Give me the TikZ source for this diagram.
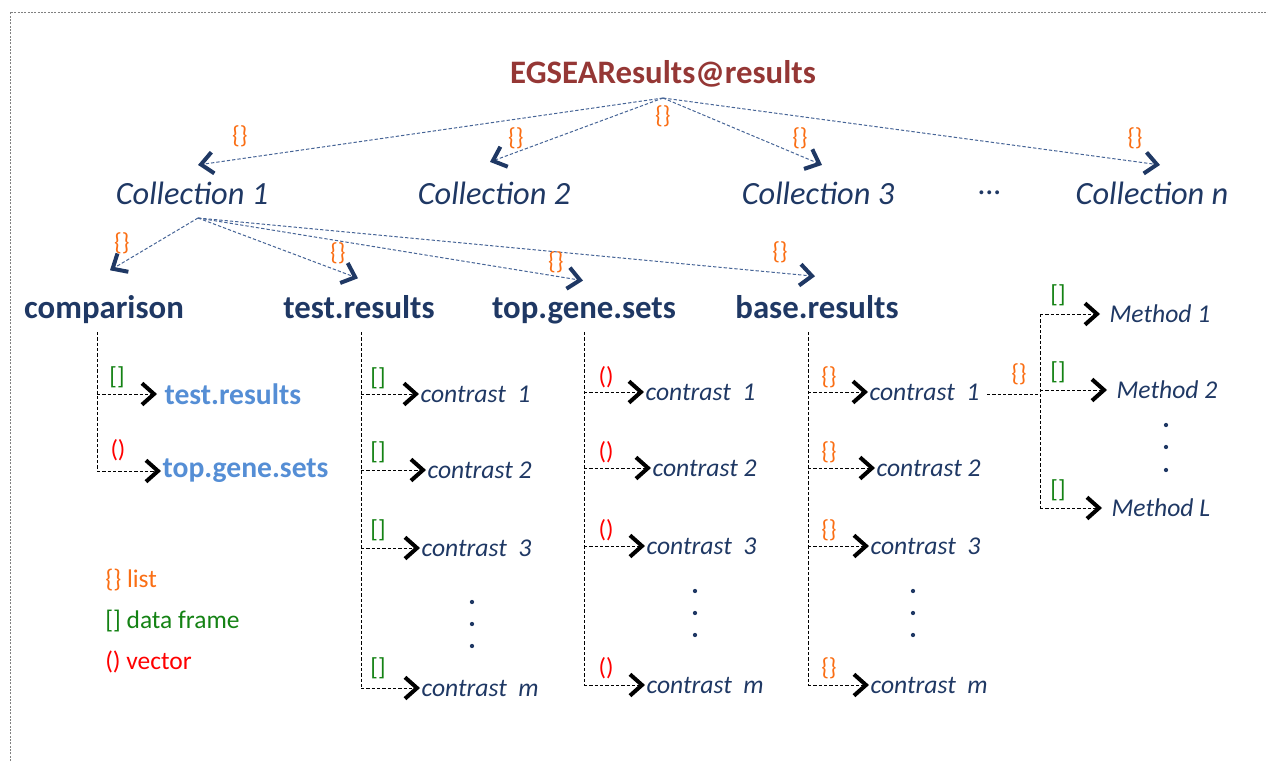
\documentclass[tikz,border=0pt]{standalone}
\usepackage{fontspec}
\setmainfont{Carlito}
\usetikzlibrary{arrows.meta,calc}
\definecolor{navy}{RGB}{31,56,100}
\definecolor{darkred}{RGB}{149,55,53}
\definecolor{lightblue}{RGB}{85,142,213}
\definecolor{lorange}{RGB}{250,110,20}
\definecolor{dfgreen}{RGB}{20,130,20}
\definecolor{vecred}{RGB}{255,0,0}
\definecolor{lineblue}{RGB}{70,100,150}
\begin{document}
\begin{tikzpicture}[x=0.75pt,y=-0.75pt,
  title/.style={font=\bfseries\fontsize{24.6}{29}\selectfont,text=darkred},
  coll/.style={font=\itshape\fontsize{24.3}{29}\selectfont,text=navy},
  head/.style={font=\bfseries\fontsize{24.6}{29}\selectfont,text=navy,anchor=base},
  sub/.style={font=\bfseries\fontsize{22.2}{26}\selectfont,text=lightblue,anchor=west,inner sep=1pt},
  ctr/.style={font=\itshape\fontsize{19.2}{23}\selectfont,text=navy,anchor=west,inner sep=1pt},
  tag/.style={font=\fontsize{18.5}{22}\selectfont,inner sep=0pt},
  lst/.style={tag,text=lorange},
  dfr/.style={tag,text=dfgreen},
  vec/.style={tag,text=vecred},
  legend/.style={font=\fontsize{19.1}{23}\selectfont,anchor=west,inner sep=0pt},
  fan/.style={draw=lineblue,dash pattern=on 2.5pt off 1.5pt,line width=0.75pt,
    -{Straight Barb[length=9pt,width=16pt,line width=3pt,color=navy]}},
  tree/.style={draw=black,dash pattern=on 2.5pt off 1.5pt,line width=0.6pt},
  branch/.style={tree,-{Straight Barb[length=9pt,width=16pt,line width=3pt]}},
  dotmark/.style={circle,fill=navy,inner sep=0pt,minimum size=3.2pt}
]
\useasboundingbox (0,0) rectangle (1268,761);
\draw[gray,dash pattern=on 1.5pt off 1pt,line width=0.7pt] (10,761) -- (10,12) -- (1268,12);

% title and collections
\node[title] (root) at (663,74) {EGSEAResults@results};
\coordinate (apex) at (663,98);
\node[coll] (c1) at (192,193) {Collection 1};
\node[coll] (c2) at (494,193) {Collection 2};
\node[coll] (c3) at (818,193) {Collection 3};
\node[coll] (cdots) at (990,193) {…};
\node[coll] (cn) at (1152,193) {Collection n};

\draw[fan] (apex) -- ($(c1.north)+(6,-12)$);
\draw[fan] (apex) -- ($(c2.north)+(-4,-15)$);
\draw[fan] (apex) -- ($(c3.north)+(4,-12)$);
\draw[fan] (apex) -- ($(cn.north)+(8,-12)$);
\node[lst] (l1) at (240,136) {\{\}};
\node[lst] (l2) at (516,138) {\{\}};
\node[lst] (l3) at (663,116) {\{\}};
\node[lst] (l4) at (800,138) {\{\}};
\node[lst] (l5) at (1135,138) {\{\}};

% headers
\coordinate (apex2) at (198,218);
\node[head] (h1) at (104,318) {comparison};
\node[head] (h2) at (359,318) {test.results};
\node[head] (h3) at (584,318) {top.gene.sets};
\node[head] (h4) at (817,318) {base.results};
\draw[fan] (apex2) -- ($(h1.north)+(6,-20)$);
\draw[fan] (apex2) -- ($(h2.north)+(-1,-12)$);
\draw[fan] (apex2) -- ($(h3.north)+(-1,-12)$);
\draw[fan] (apex2) -- ($(h4.north)+(-2,-14)$);
\node[lst] (m1) at (122,243) {\{\}};
\node[lst] (m2) at (338,253) {\{\}};
\node[lst] (m3) at (556,262) {\{\}};
\node[lst] (m4) at (780,252) {\{\}};

% comparison tree
\coordinate (t1top) at (97,332);
\node[sub] (s1) at (163,394) {test.results};
\node[sub] (s2) at (161,471) {top.gene.sets};
\draw[tree] (t1top) -- (t1top |- s2.west);
\draw[branch] (t1top |- s1.west) -- ($(s1.west)+(-6,0)$);
\draw[branch] (t1top |- s2.west) -- (s2.west);
\node[dfr] at (117,377) {[]};
\node[vec] at (118,450) {()};

% test.results tree
\coordinate (t2top) at (361,332);
\node[ctr] (a1) at (419,394) {contrast~~1};
\node[ctr] (a2) at (426,470) {contrast 2};
\node[ctr] (a3) at (420,548) {contrast~~3};
\node[ctr] (am) at (420,688) {contrast~~m};
\draw[tree] (t2top) -- (t2top |- am.west);
\foreach \n in {a1,a2,a3,am} \draw[branch] (t2top |- \n.west) -- (\n.west);
\foreach \y in {378,452,530,668} \node[dfr] at (378,\y) {[]};
\foreach \y in {602,624,646} \node[dotmark] at (472,\y) {};

% top.gene.sets tree
\coordinate (t3top) at (584,332);
\node[ctr] (b1) at (644,392) {contrast~~1};
\node[ctr] (b2) at (651,468) {contrast 2};
\node[ctr] (b3) at (645,546) {contrast~~3};
\node[ctr] (bm) at (645,685) {contrast~~m};
\draw[tree] (t3top) -- (t3top |- bm.west);
\foreach \n in {b1,b2,b3,bm} \draw[branch] (t3top |- \n.west) -- (\n.west);
\foreach \y in {377,452,530,668} \node[vec] at (606,\y) {()};
\foreach \y in {591,613,635} \node[dotmark] at (695,\y) {};

% base.results tree
\coordinate (t4top) at (808,332);
\node[ctr] (d1) at (868,392) {contrast~~1};
\node[ctr] (d2) at (875,468) {contrast 2};
\node[ctr] (d3) at (869,546) {contrast~~3};
\node[ctr] (dm) at (869,685) {contrast~~m};
\draw[tree] (t4top) -- (t4top |- dm.west);
\foreach \n in {d1,d2,d3,dm} \draw[branch] (t4top |- \n.west) -- (\n.west);
\foreach \y in {377,452,530,668} \node[lst] at (829,\y) {\{\}};
\foreach \y in {591,613,635} \node[dotmark] at (913,\y) {};

% methods
\node[ctr] (e1) at (1108,314) {Method 1};
\node[ctr] (e2) at (1115,390) {Method 2};
\node[ctr] (eL) at (1110,508) {Method L};
\coordinate (mtop) at (1040,314);
\coordinate (mj) at ($(d1.east)+(6,2)$);
\draw[tree] (mj) -- (mtop |- mj);
\draw[tree] (mtop) -- (mtop |- eL.west);
\draw[branch] (mtop) -- ($(e1.west)+(-8,0)$);
\draw[branch] (mtop |- e2.west) -- ($(e2.west)+(-8,0)$);
\draw[branch] (mtop |- eL.west) -- ($(eL.west)+(-8,0)$);
\node[lst] at (1019,374) {\{\}};
\node[dfr] at (1058,295) {[]};
\node[dfr] at (1058,372) {[]};
\node[dfr] at (1058,490) {[]};
\foreach \y in {425,447,470} \node[dotmark] at (1166,\y) {};

% legend
\node[legend,text=lorange] (g1) at (105,580) {\{\} list};
\node[legend,text=dfgreen] (g2) at (105,621) {[] data frame};
\node[legend,text=vecred] (g3) at (105,662) {() vector};
\end{tikzpicture}
\end{document}
